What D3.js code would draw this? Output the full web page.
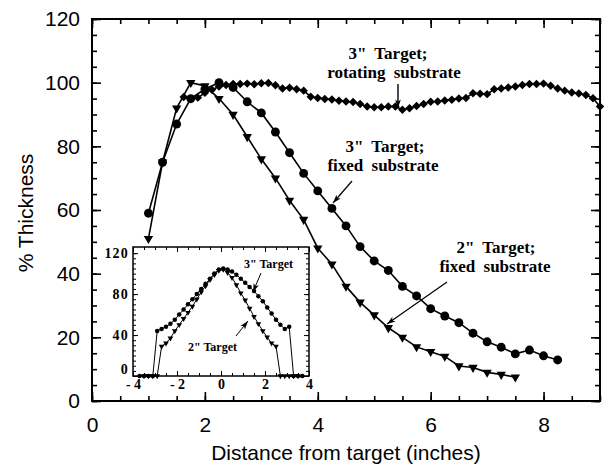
<!DOCTYPE html>
<html>
<head>
<meta charset="utf-8">
<script src="https://cdnjs.cloudflare.com/ajax/libs/d3/7.8.5/d3.min.js"></script>
<style>
  body { margin: 0; background: #fff; }
  .tick line { stroke: #000; }
  .note { font-family: "Liberation Serif", "Times New Roman", serif; font-weight: bold; }
</style>
</head>
<body>
<div id="chart"></div>
<script>
// main plot: 3" target, rotating substrate (diamonds)
var rotX = [1.625, 1.75, 1.875, 2.0, 2.125, 2.25, 2.375, 2.5, 2.625, 2.75, 2.875, 3.0, 3.125, 3.25, 3.375, 3.5, 3.625, 3.75, 3.875, 4.0,
            4.125, 4.25, 4.375, 4.5, 4.625, 4.75, 4.875, 5.0, 5.125, 5.25, 5.375, 5.5, 5.625, 5.75, 5.875, 6.0, 6.125, 6.25, 6.375, 6.5,
            6.625, 6.75, 6.875, 7.0, 7.125, 7.25, 7.375, 7.5, 7.625, 7.75, 7.875, 8.0, 8.125, 8.25, 8.375, 8.5, 8.625, 8.75, 8.875, 9.0];
var rotY = [95.5, 94.8, 95.3, 96.8, 97.8, 98.8, 99.3, 99.6, 99.6, 99.7, 99.5, 99.8, 99.9, 99.2, 98.2, 98.4, 97.9, 97.5, 95.6, 95.2,
            94.9, 94.7, 94.3, 94.1, 93.9, 93.3, 92.5, 92.3, 92.3, 92.5, 92.5, 91.5, 92.0, 92.7, 93.3, 94.0, 94.1, 94.4, 94.6, 95.0,
            95.2, 96.7, 96.5, 96.4, 97.9, 98.2, 98.5, 98.8, 99.3, 99.6, 99.6, 99.7, 99.0, 98.2, 97.5, 96.9, 96.6, 96.1, 95.1, 92.5];

// 3" target, fixed substrate (circles)
var fix3X = [1.0, 1.25, 1.5, 1.75, 2.0, 2.25, 2.5, 2.75, 3.0, 3.25, 3.5, 3.75, 4.0, 4.25, 4.5, 4.75, 5.0, 5.25, 5.5, 5.75,
             6.0, 6.25, 6.5, 6.75, 7.0, 7.25, 7.5, 7.75, 8.0, 8.25];
var fix3Y = [59, 75, 87, 95, 98, 100, 98.5, 94, 90.5, 84.5, 78, 71.5, 66, 60.5, 55, 48.5, 44, 41, 36, 33,
             29, 26.7, 24.6, 21.3, 18.6, 16.9, 14.8, 16, 14.2, 12.9];

// 2" target, fixed substrate (triangles)
var fix2X = [1.0, 1.25, 1.5, 1.75, 2.0, 2.25, 2.5, 2.75, 3.0, 3.25, 3.5, 3.75, 4.0, 4.25, 4.5, 4.75, 5.0, 5.25, 5.5, 5.75,
             6.0, 6.25, 6.5, 6.75, 7.0, 7.25, 7.5];
var fix2Y = [51, 75, 92, 100, 99, 95, 90, 83, 76, 70, 63, 57, 48, 43, 36, 31, 27, 23, 20, 17,
             15.5, 14, 11, 10.5, 9, 8.3, 7.5];

// inset: full profile across the substrate
var in3X = [-3.7, -3.5, -3.3, -3.1, -2.9, -2.7, -2.5, -2.3, -2.1, -1.9, -1.7, -1.5, -1.3, -1.1, -0.9, -0.7, -0.5, -0.3, -0.1,
            0.1, 0.3, 0.5, 0.7, 0.9, 1.1, 1.3, 1.5, 1.7, 1.9, 2.1, 2.3, 2.5, 2.7, 2.9, 3.1, 3.3, 3.5, 3.7];
var in3Y = [0, 0, 0, 0, 44, 46, 48, 51, 55, 60, 65, 70, 75, 80, 85, 90, 95, 100, 104,
            105, 104, 102, 99, 95, 91, 87, 83, 78, 73, 67, 61, 55, 50, 46, 48, 0, 0, 0];
var in2X = [-3.5, -3.3, -3.1, -2.9, -2.7, -2.5, -2.3, -2.1, -1.9, -1.7, -1.5, -1.3, -1.1, -0.9, -0.7, -0.5, -0.3, -0.1,
            0.1, 0.3, 0.5, 0.7, 0.9, 1.1, 1.3, 1.5, 1.7, 1.9, 2.1, 2.3, 2.5, 2.7, 2.9, 3.1, 3.3, 3.5];
var in2Y = [0, 0, 0, 0, 29, 32, 37, 44, 50, 56, 62, 68, 75, 82, 88, 94, 99, 103,
            104, 101, 96, 89, 81, 74, 66, 58, 51, 44, 38, 32, 29, 0, 0, 0, 0, 0];

var xTicks = [0, 2, 4, 6, 8];
var yTicks = [0, 20, 40, 60, 80, 100, 120];
var inXTicks = [-4, -2, 0, 2, 4];
var inYTicks = [0, 40, 80, 120];

var width = 606, height = 470;

var svg = d3.select("#chart").append("svg")
    .attr("width", width)
    .attr("height", height);

var x = d3.scaleLinear().domain([0, 9]).range([92, 600]);
var y = d3.scaleLinear().domain([0, 120]).range([401, 19]);

function zip(xs, ys) {
    return xs.map(function (v, i) { return [v, ys[i]]; });
}

// axes, ticks pointing inward
function drawAxes(g, xs, ys, opt) {
    var r = xs.range(), d = ys.range();
    g.append("g").attr("transform", "translate(0," + d[0] + ")")
        .call(d3.axisBottom(xs).tickValues(opt.xMinor).tickSize(-opt.minor).tickFormat(""));
    g.append("g").attr("transform", "translate(0," + d[0] + ")")
        .attr("class", "xlab")
        .call(d3.axisBottom(xs).tickValues(opt.xMajor).tickSize(-opt.major).tickPadding(opt.xPad).tickFormat(opt.fmt));
    g.append("g").attr("transform", "translate(0," + d[1] + ")")
        .call(d3.axisTop(xs).tickValues(opt.xMinor).tickSize(-opt.minor).tickFormat(""));
    g.append("g").attr("transform", "translate(0," + d[1] + ")")
        .call(d3.axisTop(xs).tickValues(opt.xMajor).tickSize(-opt.major).tickFormat(""));
    g.append("g").attr("transform", "translate(" + r[0] + ",0)")
        .call(d3.axisLeft(ys).tickValues(opt.yMinor).tickSize(-opt.minor).tickFormat(""));
    g.append("g").attr("transform", "translate(" + r[0] + ",0)")
        .attr("class", "ylab")
        .call(d3.axisLeft(ys).tickValues(opt.yMajor).tickSize(-opt.major).tickPadding(opt.yPad).tickFormat(opt.fmt));
    g.append("g").attr("transform", "translate(" + r[1] + ",0)")
        .call(d3.axisRight(ys).tickValues(opt.yMinor).tickSize(-opt.minor).tickFormat(""));
    g.append("g").attr("transform", "translate(" + r[1] + ",0)")
        .call(d3.axisRight(ys).tickValues(opt.yMajor).tickSize(-opt.major).tickFormat(""));
    g.selectAll(".domain").remove();
    g.selectAll(".tick line").attr("stroke-width", opt.tickW);
    g.append("rect")
        .attr("x", r[0]).attr("y", d[1])
        .attr("width", r[1] - r[0]).attr("height", d[0] - d[1])
        .attr("fill", "none").attr("stroke", "#000").attr("stroke-width", opt.frameW);
}

var main = svg.append("g");
drawAxes(main, x, y, {
    xMinor: d3.range(0, 9.01, 0.5), xMajor: xTicks,
    yMinor: d3.range(0, 120.1, 5), yMajor: yTicks,
    minor: 5, major: 9, xPad: 16, yPad: 12, tickW: 1.6, frameW: 2,
    fmt: d3.format("d")
});
main.selectAll(".xlab text, .ylab text")
    .attr("font-family", "'Liberation Sans', Arial, sans-serif")
    .attr("font-size", 21).attr("fill", "#000");

svg.append("text")
    .attr("x", 346).attr("y", 460)
    .attr("text-anchor", "middle")
    .attr("font-family", "'Liberation Sans', Arial, sans-serif")
    .attr("font-size", 21)
    .text("Distance from target (inches)");

svg.append("text")
    .attr("transform", "translate(33,213) rotate(-90)")
    .attr("text-anchor", "middle")
    .attr("font-family", "'Liberation Sans', Arial, sans-serif")
    .attr("font-size", 21)
    .text("% Thickness");

function series(g, pts, lx, ly, lw, symbol, rot) {
    var ln = d3.line().x(function (d) { return lx(d[0]); }).y(function (d) { return ly(d[1]); });
    g.append("path").datum(pts)
        .attr("d", ln).attr("fill", "none").attr("stroke", "#000").attr("stroke-width", lw);
    g.selectAll(null).data(pts).enter().append("path")
        .attr("d", symbol)
        .attr("transform", function (d) {
            return "translate(" + lx(d[0]) + "," + ly(d[1]) + ") rotate(" + rot + ")";
        })
        .attr("fill", "#000");
}

var plot = svg.append("g");
series(plot, zip(fix3X, fix3Y), x, y, 1.6, d3.symbol().type(d3.symbolCircle).size(62)(), 0);
series(plot, zip(fix2X, fix2Y), x, y, 1.6, d3.symbol().type(d3.symbolTriangle).size(38)(), 180);
series(plot, zip(rotX, rotY), x, y, 1.6, d3.symbol().type(d3.symbolSquare).size(36)(), 45);

// annotations
function arrow(g, x1, y1, x2, y2, w) {
    var a = Math.atan2(y2 - y1, x2 - x1), L = 9, s = 0.32;
    g.append("line").attr("x1", x1).attr("y1", y1).attr("x2", x2).attr("y2", y2)
        .attr("stroke", "#000").attr("stroke-width", w);
    g.append("path")
        .attr("d", "M" + x2 + "," + y2 +
            "L" + (x2 - L * Math.cos(a - s)) + "," + (y2 - L * Math.sin(a - s)) +
            "L" + (x2 - L * 0.7 * Math.cos(a)) + "," + (y2 - L * 0.7 * Math.sin(a)) +
            "L" + (x2 - L * Math.cos(a + s)) + "," + (y2 - L * Math.sin(a + s)) + "Z")
        .attr("fill", "#000");
}

function note(g, lines, cx, by, size) {
    lines.forEach(function (t, i) {
        g.append("text").attr("class", "note")
            .attr("x", cx[i]).attr("y", by[i])
            .attr("text-anchor", "middle")
            .attr("font-size", size)
            .attr("word-spacing", 4)
            .text(t);
    });
}

var ann = svg.append("g");
note(ann, ["3\" Target;", "rotating substrate"], [388, 394], [59, 78], 17);
arrow(ann, 398, 84, 398, 108, 1.4);
note(ann, ["3\" Target;", "fixed substrate"], [385, 383], [152, 171], 17);
arrow(ann, 352, 181, 333, 203, 1.2);
note(ann, ["2\" Target;", "fixed substrate"], [496, 495], [253, 272], 17);
arrow(ann, 447, 282, 387, 324, 1.2);

// inset
var xi = d3.scaleLinear().domain([-4, 4]).range([133, 309]);
var yi = d3.scaleLinear().domain([0, 126]).range([376, 247]);

var inset = svg.append("g");
inset.append("rect").attr("x", 133).attr("y", 247).attr("width", 176).attr("height", 129).attr("fill", "#fff");
drawAxes(inset, xi, yi, {
    xMinor: d3.range(-4, 4.01, 0.5), xMajor: inXTicks,
    yMinor: d3.range(0, 125, 5), yMajor: inYTicks,
    minor: 3, major: 5, xPad: 3, yPad: 4, tickW: 1, frameW: 1.5,
    fmt: function (d) { return d < 0 ? "- " + (-d) : String(d); }
});
inset.selectAll(".xlab text, .ylab text")
    .attr("font-family", "'Liberation Serif', 'Times New Roman', serif")
    .attr("font-weight", "bold")
    .attr("font-size", 14).attr("fill", "#000");
inset.selectAll(".xlab text").attr("dy", "0.72em");
inset.selectAll(".ylab text").attr("letter-spacing", 1.2)
    .attr("dy", function (d) { return d === 0 ? "-0.2em" : "0.32em"; });

series(inset, zip(in3X, in3Y), xi, yi, 1, d3.symbol().type(d3.symbolCircle).size(16)(), 0);
series(inset, zip(in2X, in2Y), xi, yi, 1, d3.symbol().type(d3.symbolTriangle).size(14)(), 180);

inset.append("text").attr("class", "note")
    .attr("x", 244).attr("y", 268).attr("font-size", 12).text("3\" Target");
arrow(inset, 261, 273, 253, 292, 1);
inset.append("text").attr("class", "note")
    .attr("x", 188).attr("y", 351).attr("font-size", 12).text("2\" Target");
arrow(inset, 236, 336, 248, 321, 1);
</script>
</body>
</html>
